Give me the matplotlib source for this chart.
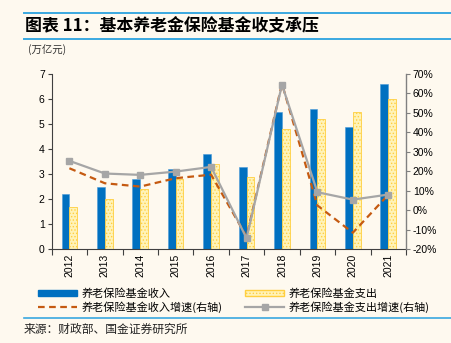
import matplotlib
matplotlib.use("Agg")
import matplotlib.pyplot as plt
from matplotlib.lines import Line2D
from matplotlib.patches import Patch
import numpy as np

plt.rcParams['font.family'] = ['Liberation Sans', 'Noto Sans CJK SC', 'DejaVu Sans']
plt.rcParams['hatch.linewidth'] = 0.6

years = ['2012', '2013', '2014', '2015', '2016', '2017', '2018', '2019', '2020', '2021']
income = [2.2, 2.5, 2.8, 3.2, 3.8, 3.3, 5.5, 5.6, 4.9, 6.6]
expense = [1.7, 2.0, 2.4, 2.8, 3.4, 2.9, 4.8, 5.2, 5.5, 6.0]
income_growth = [21.6, 13.9, 12.2, 16.5, 18.3, -13.5, 65.0, 2.5, -11.5, 8.0]
expense_growth = [25.4, 18.9, 18.2, 19.9, 22.3, -14.3, 64.5, 9.3, 5.5, 8.1]

bg = '#FEF9EF'
blue = '#0070C0'
orange = '#C55A11'
gray = '#A6A6A6'
cjk = ['Noto Sans CJK SC', 'DejaVu Sans']

fig = plt.figure(figsize=(4.51, 3.43), dpi=100, facecolor=bg)
ax = fig.add_axes([0.1146, 0.2732, 0.9002 - 0.1146, 0.7843 - 0.2732])
ax.set_facecolor(bg)

x = np.arange(len(years))
w = 0.22
ax.bar(x - w / 2, income, width=w, color=blue, edgecolor='#4A9AD8', linewidth=0.4, zorder=2)
ax.bar(x + w / 2, expense, width=w, color='#FFF3B8', edgecolor='#FFCF40', hatch='.....',
       linewidth=0.6, zorder=2)

ax.set_xlim(-0.5, len(years) - 0.5)
ax.set_ylim(0, 7)
ax.set_yticks(range(0, 8))
ax.set_xticks(x)
ax.set_xticklabels(years, rotation=90)
ax.set_xticks(np.arange(-0.5, len(years), 1), minor=True)
ax.tick_params(axis='x', which='major', length=0, labelsize=7.5, pad=3)
ax.tick_params(axis='x', which='minor', length=4, width=0.8, color='#404040')
ax.tick_params(axis='y', labelsize=7.5, length=3, width=0.8, color='#404040', pad=2)
for s in ['top', 'right']:
    ax.spines[s].set_visible(False)
ax.spines['left'].set_color('#404040')
ax.spines['bottom'].set_color('#404040')
ax.spines['left'].set_linewidth(0.8)
ax.spines['bottom'].set_linewidth(0.8)

ax2 = ax.twinx()
ax2.plot(x, income_growth, color=orange, linestyle=(0, (3, 2)), linewidth=1.6, zorder=3)
ax2.plot(x, expense_growth, color=gray, linewidth=1.6, marker='s', markersize=5,
         markerfacecolor=gray, markeredgecolor=gray, zorder=4)
ax2.set_ylim(-20, 70)
ax2.set_yticks(range(-20, 71, 10))
ax2.set_yticklabels([f'{v}%' for v in range(-20, 71, 10)])
ax2.tick_params(axis='y', labelsize=7.5, length=3, width=0.8, color='#808080', pad=2)
for s in ['top', 'left', 'bottom']:
    ax2.spines[s].set_visible(False)
ax2.spines['right'].set_color('#808080')
ax2.spines['right'].set_linewidth(1.0)

# Title and header lines
line_color = '#3AA8E0'
fig.add_artist(Line2D([24 / 451, 1.0], [1 - 13.3 / 343] * 2, color=line_color, linewidth=1.4))
fig.add_artist(Line2D([24 / 451, 1.0], [1 - 39 / 343] * 2, color=line_color, linewidth=1.4))
fig.text(25 / 451, 1 - 26 / 343, '图表 11：基本养老金保险基金收支承压', fontsize=12.2,
         fontweight='bold', style='italic', family=cjk, va='center', ha='left')
fig.text(28 / 451, 1 - 50 / 343, '(万亿元)', fontsize=7.5, family=cjk, va='center', ha='left',
         color='#333333')

# Legend
handles = [
    Patch(facecolor=blue, edgecolor=blue),
    Line2D([], [], color=orange, linestyle=(0, (3, 2)), linewidth=1.6),
    Patch(facecolor='#FFF3B8', edgecolor='#FFCF40', hatch='.....'),
    Line2D([], [], color=gray, linewidth=1.6, marker='s', markersize=5),
]
labels = ['养老保险基金收入', '养老保险基金收入增速(右轴)', '养老保险基金支出', '养老保险基金支出增速(右轴)']
leg = fig.legend(handles, labels, ncol=2, loc='upper left',
                 bbox_to_anchor=(38 / 451, 1 - 288.5 / 343), frameon=False,
                 prop={'family': cjk, 'size': 8.0}, handlelength=3.5, handleheight=0.5,
                 handletextpad=0.45, columnspacing=2.0, labelspacing=0.2,
                 borderpad=0, borderaxespad=0)

fig.add_artist(Line2D([24 / 451, 1.0], [1 - 317.7 / 343] * 2, color=line_color, linewidth=1.2))
fig.text(24 / 451, 1 - 329.5 / 343, '来源：财政部、国金证券研究所', fontsize=8.5, family=cjk,
         va='center', ha='left', color='#222222')

fig.savefig('out.png', dpi=100, facecolor=bg)
